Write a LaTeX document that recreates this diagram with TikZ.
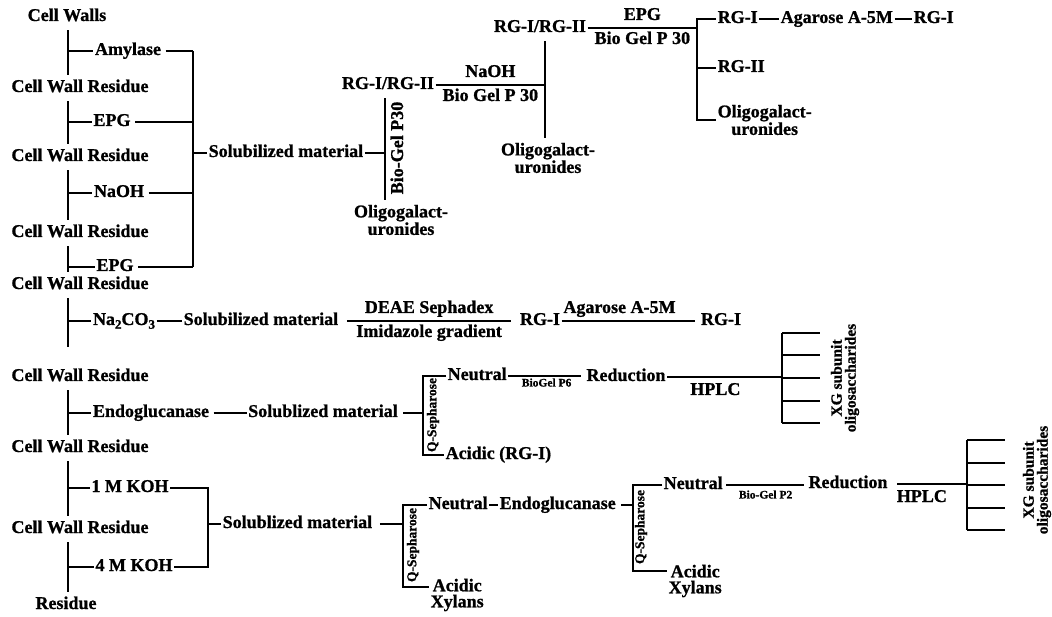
\documentclass[tikz,border=0pt]{standalone}
\usepackage{fontspec}
\setmainfont{Liberation Serif}[BoldFeatures={FakeBold=1}]
\usepackage{tikz}
\newcommand{\chemsub}[1]{\raisebox{-0.45ex}{\fontsize{13}{13}\selectfont #1}}

\begin{document}
\begin{tikzpicture}[x=1pt, y=-1pt,
  every node/.style={font=\fontsize{18}{19}\selectfont\bfseries, inner xsep=1.5pt, inner ysep=5pt,
    text height=12pt, text depth=4pt},
  twoline/.style={align=center, text height={}, text depth={}, font=\fontsize{18}{16}\selectfont\bfseries},
  lbl/.style={inner ysep=3pt},
  qlbl/.style={rotate=90, inner sep=0.5pt, text height={}, text depth={}, font=\fontsize{13.5}{14}\selectfont\bfseries},
  tinylbl/.style={inner ysep=1.5pt, text height={}, text depth={}, font=\fontsize{11.5}{12}\selectfont\bfseries},
  xglbl/.style={rotate=90, align=center, inner sep=0pt, text height={}, text depth={}, font=\fontsize{15.5}{14}\selectfont\bfseries},
  ln/.style={line width=2pt}]
  \fill[white] (0,0) rectangle (1052,617);
  \useasboundingbox (0,0) rectangle (1052,617);

  % Residue column
  \coordinate (sp) at (68,0);
  \node (cw) at (67,17) {Cell Walls};
  \node (r1) at (80,88) {Cell Wall Residue};
  \node (r2) at (80,157) {Cell Wall Residue};
  \node (r3) at (80,233) {Cell Wall Residue};
  \node (r4) at (80,285) {Cell Wall Residue};
  \node (r5) at (80,377) {Cell Wall Residue};
  \node (r6) at (80,448) {Cell Wall Residue};
  \node (r7) at (80,529) {Cell Wall Residue};
  \node (res) at (66,605) {Residue};
  \foreach \a/\b in {cw/r1, r1/r2, r2/r3, r3/r4, r5/r6, r6/r7, r7/res}
    \draw[ln] (\a.south -| sp) -- (\b.north -| sp);
  \draw[ln, shorten >=17pt] (r4.south -| sp) -- (r5.north -| sp);

  % Pectic extractions
  \node (am) at (128,51) {Amylase};
  \node (epga) at (112,122) {EPG};
  \node (naoha) at (119,193) {NaOH};
  \node (epgb) at (115,267) {EPG};
  \coordinate (b1) at (193,0);
  \foreach \n in {am, epga, naoha, epgb}{%
    \draw[ln] (sp |- \n) -- (\n.west);
    \draw[ln, shorten <=3pt] (\n.east) -- (b1 |- \n);
  }
  \draw[ln] (b1 |- am) -- (b1 |- epgb);
  \node[anchor=west] (sola) at (207,153) {Solubilized material};
  \draw[ln] (b1 |- sola) -- (sola.west);

  % RG-I / RG-II fractionation
  \coordinate (b2) at (385,0);
  \node (rga) at (388,85) {RG-I/RG-II};
  \node[twoline] (oga) at (401,220) {Oligogalact-\\uronides};
  \node[rotate=90, inner sep=0pt] (bgp) at (399,148) {Bio-Gel P30};
  \draw[ln] (sola.east) -- (b2 |- sola);
  \draw[ln] (rga.south -| b2) -- (oga.north -| b2);

  \coordinate (b3) at (545,0);
  \node (rgb) at (540,28) {RG-I/RG-II};
  \node[twoline] (ogb) at (548,158) {Oligogalact-\\uronides};
  \draw[ln] (rga.east) -- (b3 |- rga)
    node[midway, above, lbl] {NaOH} node[midway, below, lbl] {Bio Gel P 30};
  \draw[ln] (rgb.south -| b3) -- (ogb.north -| b3);

  \coordinate (b4) at (697,0);
  \draw[ln] (rgb.east) -- (b4 |- rgb)
    node[midway, above, lbl] {EPG} node[midway, below, lbl] {Bio Gel P 30};
  \node[anchor=west] (rgia) at (716,19) {RG-I};
  \node[anchor=west] (aga) at (779,19) {Agarose A-5M};
  \node[anchor=west] (rgib) at (912,19) {RG-I};
  \node[anchor=west] (rgii) at (716,68) {RG-II};
  \node[twoline, anchor=west] (ogc) at (716,120) {Oligogalact-\\uronides};
  \draw[ln] (rgia.west) -- (b4 |- rgia) -- (b4 |- ogc) -- (ogc.west);
  \draw[ln] (b4 |- rgii) -- (rgii.west);
  \draw[ln] (rgia.east) -- (aga.west);
  \draw[ln] (aga.east) -- (rgib.west);

  % Carbonate extraction
  \node (na) at (124,321) {Na\chemsub{2}CO\chemsub{3}};
  \node[anchor=west] (solb) at (182,321) {Solubilized material};
  \node (rgic) at (540,321) {RG-I};
  \node (rgid) at (721,321) {RG-I};
  \draw[ln] (sp |- na) -- (na.west);
  \draw[ln] (na.east) -- (solb.west);
  \draw[ln, shorten <=7pt, shorten >=7pt] (solb.east) -- (rgic.west)
    node[midway, above, lbl] {DEAE Sephadex} node[midway, below, lbl] {Imidazole gradient};
  \draw[ln, shorten >=4pt] (rgic.east) -- (rgid.west)
    node[pos=0.42, above, lbl] {Agarose A-5M};

  % Endoglucanase extraction
  \node (ega) at (151,413) {Endoglucanase};
  \node (solc) at (323,413) {Solublized material};
  \draw[ln] (sp |- ega) -- (ega.west);
  \draw[ln, shorten <=3pt] (ega.east) -- (solc.west);
  \coordinate (b5) at (423,0);
  \node[anchor=west] (neua) at (446,376) {Neutral};
  \node[anchor=west] (acia) at (444,455) {Acidic (RG-I)};
  \node[qlbl] (qsa) at (433,415) {Q-Sepharose};
  \draw[ln, shorten <=4pt] (solc.east) -- (b5 |- solc);
  \draw[ln] (neua.west) -- (b5 |- neua) -- (b5 |- acia) -- (acia.west);
  \node (reda) at (626,377) {Reduction};
  \draw[ln, shorten >=4pt] (neua.east) -- (neua.east -| reda.west)
    node[midway, below, tinylbl] {BioGel P6};
  \coordinate (b6) at (782,0);
  \draw[ln] (reda.east) -- (b6 |- reda) node[pos=0.42, below] {HPLC};
  \coordinate (xga) at (782,333);
  \draw[ln] (xga) -- ++(0,90);
  \foreach \k in {0,...,4}
    \draw[ln] (xga) ++(0,22.5*\k) -- ++(38,0);
  \node[xglbl] (xgla) at (845,378) {XG subunit\\oligosaccharides};

  % KOH extractions
  \node (ka) at (130,488) {1 M KOH};
  \node (kb) at (134,567) {4 M KOH};
  \coordinate (b7) at (208,0);
  \draw[ln] (sp |- ka) -- (ka.west);
  \draw[ln] (sp |- kb) -- (kb.west);
  \draw[ln] (ka.east) -- (b7 |- ka) -- (b7 |- kb) -- (kb.east);
  \node[anchor=west] (sold) at (221,524) {Solublized material};
  \draw[ln] (b7 |- sold) -- (sold.west);
  \coordinate (b8) at (403,0);
  \coordinate (b8b) at (403,587);
  \node[anchor=west] (neub) at (427,505) {Neutral};
  \node[twoline, anchor=west] (acxa) at (429,595) {Acidic\\Xylans};
  \node[qlbl] (qsb) at (413,545) {Q-Sepharose};
  \draw[ln, shorten <=6pt] (sold.east) -- (b8 |- sold);
  \draw[ln] (neub.west) -- (b8 |- neub) -- (b8b) -- (acxa.west |- b8b);
  \node[anchor=west] (egb) at (498,505) {Endoglucanase};
  \draw[ln] (neub.east) -- (egb.west);
  \coordinate (b9) at (633,0);
  \coordinate (b9b) at (633,571);
  \node[anchor=west] (neuc) at (662,485) {Neutral};
  \node[twoline, anchor=west] (acxb) at (667,581) {Acidic\\Xylans};
  \node[qlbl] (qsc) at (641,527) {Q-Sepharose};
  \draw[ln, shorten <=4pt] (egb.east) -- (b9 |- egb);
  \draw[ln] (neuc.west) -- (b9 |- neuc) -- (b9b) -- (acxb.west |- b9b);
  \node (redb) at (848,484) {Reduction};
  \draw[ln, shorten <=2pt, shorten >=3pt] (neuc.east) -- (neuc.east -| redb.west)
    node[midway, below, tinylbl, yshift=-3pt] {Bio-Gel P2};
  \coordinate (b10) at (967,0);
  \draw[ln, shorten <=8pt] (redb.east) -- (b10 |- redb) node[pos=0.42, below] {HPLC};
  \coordinate (xgb) at (967,440);
  \draw[ln] (xgb) -- ++(0,90);
  \foreach \k in {0,...,4}
    \draw[ln] (xgb) ++(0,22.5*\k) -- ++(38,0);
  \node[xglbl] (xglb) at (1037,480) {XG subunit\\oligosaccharides};
\end{tikzpicture}
\end{document}
